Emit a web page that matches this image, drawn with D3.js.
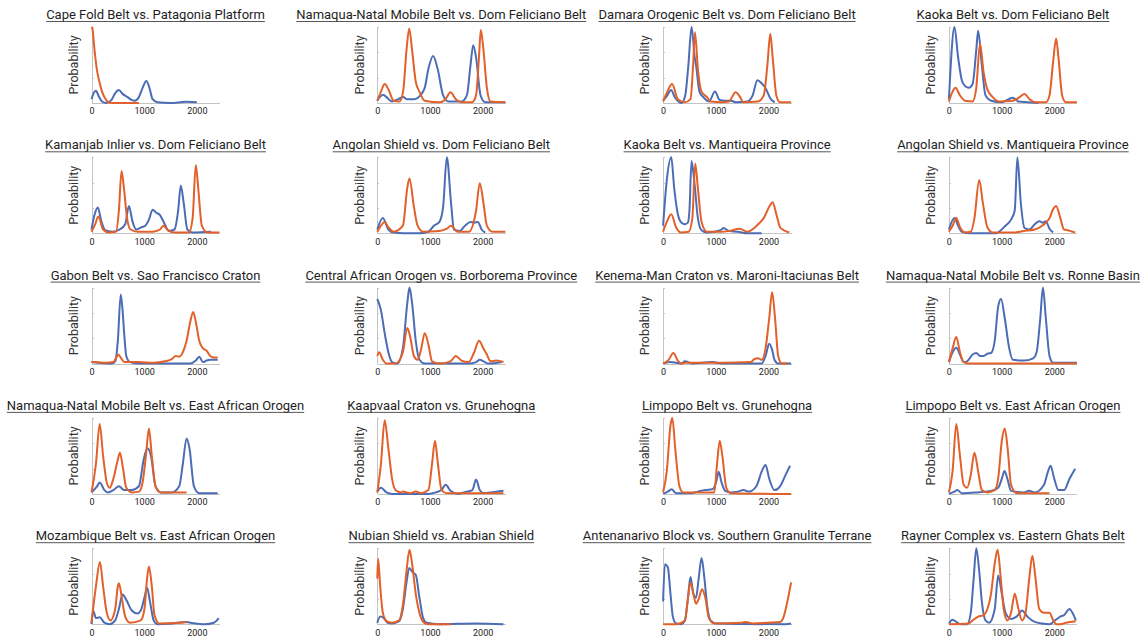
<!DOCTYPE html>
<html>
<head>
<meta charset="utf-8">
<script src="https://d3js.org/d3.v7.min.js"></script>
<style>
  body { margin: 0; background: #fff; }
  .title { font-family: Roboto, "Liberation Sans", sans-serif; font-size: 13px; fill: #1e1e1e; }
  .ylab { font-family: Roboto, "Liberation Sans", sans-serif; font-size: 12.5px; fill: #333; }
  .axis text { font-family: Roboto, "Liberation Sans", sans-serif; font-size: 9px; fill: #222; }
  .axis path, .axis line { stroke: #c4c4c4; shape-rendering: crispEdges; }
</style>
</head>
<body>
<svg id="chart" width="1148" height="642"></svg>
<script>

// panel titles, read left to right, top to bottom
var titles = [
  "Cape Fold Belt vs. Patagonia Platform",
  "Namaqua-Natal Mobile Belt vs. Dom Feliciano Belt",
  "Damara Orogenic Belt vs. Dom Feliciano Belt",
  "Kaoka Belt vs. Dom Feliciano Belt",
  "Kamanjab Inlier vs. Dom Feliciano Belt",
  "Angolan Shield vs. Dom Feliciano Belt",
  "Kaoka Belt vs. Mantiqueira Province",
  "Angolan Shield vs. Mantiqueira Province",
  "Gabon Belt vs. Sao Francisco Craton",
  "Central African Orogen vs. Borborema Province",
  "Kenema-Man Craton vs. Maroni-Itaciunas Belt",
  "Namaqua-Natal Mobile Belt vs. Ronne Basin",
  "Namaqua-Natal Mobile Belt vs. East African Orogen",
  "Kaapvaal Craton vs. Grunehogna",
  "Limpopo Belt vs. Grunehogna",
  "Limpopo Belt vs. East African Orogen",
  "Mozambique Belt vs. East African Orogen",
  "Nubian Shield vs. Arabian Shield",
  "Antenanarivo Block vs. Southern Granulite Terrane",
  "Rayner Complex vs. Eastern Ghats Belt"
];

var xTicks = [0, 1000, 2000];

// [age (Ma), relative probability]
var capeFoldBlue = [[0,.05],[40,.13],[85,.16],[130,.1],[200,.02],[280,0],[380,.04],[450,.13],[520,.17],[590,.12],[680,.08],[760,.04],[820,.03],[900,.08],[970,.2],[1040,.29],[1100,.2],[1160,.05],[1250,.01],[1500,0],[1800,.015],[2000,.01]];
var capeFoldOrange = [[0,1],[20,.97],[50,.75],[100,.45],[150,.28],[200,.15],[260,.06],[320,.01],[400,0],[900,0]];

var namaquaDomBlue = [[0,.03],[50,.08],[110,.11],[170,.08],[280,.02],[400,.05],[490,.08],[560,.05],[700,.05],[770,.07],[900,.2],[970,.45],[1060,.62],[1145,.45],[1250,.1],[1350,.02],[1600,.02],[1700,.1],[1770,.5],[1820,.76],[1875,.6],[1960,.1],[2050,.01],[2430,.01]];
var namaquaDomOrange = [[0,.03],[70,.15],[140,.25],[210,.18],[310,.03],[420,.02],[490,.15],[555,.7],[605,.98],[660,.7],[730,.28],[800,.15],[900,.03],[1180,.01],[1285,.04],[1390,.14],[1490,.05],[1600,.01],[1800,.01],[1875,.1],[1930,.6],[1965,.96],[2015,.7],[2080,.2],[2150,.02],[2430,.01]];

var damaraDomBlue = [[0,.03],[80,.1],[150,.17],[220,.08],[290,.02],[350,0],[420,.1],[480,.5],[540,1],[600,.6],[625,.5],[690,.15],[760,.08],[870,.02],[985,.15],[1075,.04],[1180,.03],[1285,.03],[1390,.01],[1600,.02],[1700,.1],[1790,.3],[1870,.26],[1940,.2],[2045,.05],[2120,.01]];
var damaraDomOrange = [[0,.02],[80,.15],[170,.25],[280,.05],[415,.01],[520,.05],[570,.5],[605,.93],[660,.45],[730,.15],[830,.08],[900,.02],[1110,.01],[1250,.02],[1375,.14],[1460,.08],[1520,.01],[1800,.02],[1910,.1],[1980,.5],[2035,.91],[2080,.6],[2150,.1],[2220,.01],[2430,.01]];

var kaokaDomBlue = [[0,.05],[35,.5],[105,1],[175,.6],[245,.3],[310,.22],[380,.2],[450,.25],[520,.7],[555,.95],[625,.5],[695,.1],[800,.03],[1005,.01],[1215,.07],[1320,.02],[1490,.01],[1700,0]];
var kaokaDomOrange = [[0,.02],[70,.15],[125,.2],[210,.1],[310,.03],[450,.02],[520,.2],[590,.78],[660,.4],[730,.18],[830,.08],[940,.02],[1215,.03],[1350,.08],[1435,.12],[1530,.05],[1630,.01],[1840,.01],[1910,.1],[1980,.55],[2035,.85],[2080,.6],[2150,.1],[2220,.01],[2430,.01]];

var kamanjabDomBlue = [[0,.05],[60,.25],[120,.34],[190,.15],[260,.04],[400,.02],[535,.05],[640,.12],[710,.36],[780,.15],[850,.05],[950,.08],[1020,.1],[1090,.18],[1160,.31],[1230,.27],[1300,.24],[1370,.15],[1470,.03],[1575,.05],[1645,.3],[1695,.63],[1750,.4],[1820,.05],[1920,.01],[2270,.02]];
var kamanjabDomOrange = [[0,.02],[70,.12],[130,.22],[220,.05],[330,.01],[465,.02],[520,.3],[570,.82],[615,.6],[675,.2],[740,.05],[880,.02],[1160,.02],[1300,.05],[1370,.1],[1435,.05],[1575,.01],[1850,.01],[1920,.2],[1980,.9],[2025,.6],[2095,.1],[2200,.01],[2430,.01]];

var angolanDomBlue = [[0,.05],[105,.2],[210,.05],[310,.01],[500,0],[800,0],[970,.02],[1075,.1],[1180,.15],[1250,.35],[1320,1],[1400,.4],[1455,.05],[1560,.03],[1665,.1],[1770,.15],[1840,.14],[1910,.15],[1980,.05],[2050,.01]];
var angolanDomOrange = [[0,.02],[70,.1],[140,.15],[210,.08],[310,.02],[485,.1],[570,.6],[610,.72],[695,.35],[765,.1],[870,.02],[1180,.03],[1320,.06],[1400,.1],[1525,.02],[1735,.02],[1875,.3],[1945,.66],[2015,.4],[2080,.1],[2185,.02],[2430,.02]];

var kaokaMantBlue = [[0,.1],[70,.7],[155,1],[210,.6],[280,.25],[350,.14],[415,.12],[470,.14],[500,.3],[540,.95],[590,.7],[660,.2],[730,.04],[835,.01],[970,.02],[1110,.05],[1145,.07],[1250,.03],[1420,.02],[1600,0],[1870,0]];
var kaokaMantOrange = [[0,.02],[70,.15],[155,.25],[245,.08],[345,.01],[485,.02],[555,.2],[610,.92],[660,.6],[730,.15],[835,.02],[1110,.02],[1250,.03],[1455,.06],[1600,.02],[1670,.04],[1805,.12],[1910,.2],[2015,.35],[2080,.41],[2150,.25],[2220,.08],[2290,.04],[2395,.01]];

var angolanMantBlue = [[0,.05],[105,.2],[175,.1],[245,.02],[400,0],[900,0],[970,.03],[1075,.1],[1180,.18],[1250,.3],[1300,1],[1365,.4],[1435,.07],[1525,.05],[1630,.12],[1715,.16],[1785,.14],[1840,.16],[1910,.06],[1980,.01]];
var angolanMantOrange = [[0,.02],[70,.1],[140,.2],[210,.08],[310,.01],[415,.02],[485,.2],[575,.7],[645,.4],[730,.08],[835,.01],[1215,.01],[1420,.03],[1630,.05],[1770,.1],[1910,.2],[1980,.32],[2035,.36],[2115,.2],[2185,.05],[2255,.04],[2395,.01]];

var gabonBlue = [[0,.02],[380,0],[450,.03],[500,.3],[555,.91],[590,.7],[625,.35],[660,.1],[730,.02],[900,0],[1870,0],[1980,.04],[2045,.09],[2115,.02],[2185,.04],[2255,.05],[2395,.05]];
var gabonOrange = [[0,.02],[70,.02],[280,.01],[415,.02],[470,.08],[505,.12],[555,.08],[625,.02],[900,.02],[1180,.01],[1390,.03],[1525,.06],[1600,.1],[1665,.09],[1735,.15],[1805,.3],[1875,.55],[1930,.68],[1980,.55],[2045,.3],[2115,.2],[2185,.17],[2255,.1],[2325,.08],[2395,.08]];

var centralBlue = [[0,.85],[70,.7],[140,.4],[210,.15],[280,.02],[380,0],[485,.2],[570,.8],[610,1],[660,.8],[730,.3],[800,.05],[900,0],[1735,0],[1875,.02],[1945,.05],[2015,.03],[2115,0],[2360,.02]];
var centralOrange = [[0,.1],[35,.15],[105,.05],[175,0],[345,0],[485,.15],[570,.47],[625,.35],[695,.1],[765,.05],[835,.2],[900,.4],[970,.25],[1040,.03],[1180,0],[1390,.03],[1490,.1],[1600,.04],[1735,.02],[1840,.15],[1930,.3],[2015,.2],[2080,.12],[2150,.03],[2255,.04],[2395,.02]];

var kenemaBlue = [[0,0],[140,.02],[345,0],[415,.03],[555,0],[935,.02],[1110,0],[1870,0],[1945,.1],[2015,.26],[2070,.18],[2115,.05],[2185,0],[2430,0]];
var kenemaOrange = [[0,0],[105,.05],[195,.14],[280,.04],[345,0],[415,.01],[1110,.01],[1665,.02],[1735,.06],[1805,.07],[1875,.05],[1945,.2],[2015,.6],[2070,.94],[2125,.6],[2185,.1],[2255,0],[2360,0]];

var namaquaRonneBlue = [[0,.02],[70,.15],[140,.21],[210,.12],[280,.02],[345,.03],[450,.12],[520,.14],[590,.1],[660,.1],[730,.13],[800,.14],[870,.3],[935,.75],[990,.85],[1060,.6],[1145,.2],[1215,.05],[1420,.04],[1600,.07],[1665,.15],[1735,.6],[1785,1],[1840,.6],[1910,.1],[1980,.01],[2430,.01]];
var namaquaRonneOrange = [[0,.02],[70,.2],[140,.35],[210,.15],[280,.02],[380,0],[2430,0]];

var namaquaEaoBlue = [[0,.02],[105,.1],[155,.15],[245,.05],[310,.02],[415,.05],[520,.1],[625,.05],[765,.05],[900,.1],[990,.45],[1060,.6],[1130,.5],[1215,.1],[1320,.02],[1525,.02],[1665,.1],[1735,.4],[1805,.73],[1860,.6],[1945,.1],[2045,.01],[2395,.01]];
var namaquaEaoOrange = [[0,.02],[85,.4],[155,.92],[220,.5],[290,.15],[345,.08],[415,.2],[500,.45],[540,.54],[595,.35],[660,.08],[765,.02],[900,.03],[970,.15],[1040,.55],[1090,.86],[1145,.5],[1215,.1],[1320,.02],[1805,.02]];

var kaapvaalBlue = [[0,.03],[70,.08],[175,.02],[280,0],[970,0],[1110,.02],[1215,.05],[1300,.12],[1390,.04],[1525,0],[1700,.03],[1805,.05],[1875,.19],[1945,.05],[2015,.01],[2150,.02],[2395,.04]];
var kaapvaalOrange = [[0,.02],[70,.4],[140,.97],[210,.6],[280,.2],[345,.05],[450,.02],[485,.03],[625,.01],[730,.03],[835,.01],[970,.05],[1040,.4],[1095,.7],[1150,.4],[1220,.05],[1320,.01],[2395,.01]];

var limpopoGrunBlue = [[0,0],[90,.03],[160,.06],[245,.01],[520,.01],[660,.03],[800,.05],[935,.06],[1005,.15],[1055,.29],[1110,.15],[1180,.04],[1285,.02],[1420,.03],[1525,.05],[1630,.03],[1770,.1],[1875,.3],[1945,.38],[2015,.2],[2115,.05],[2220,.1],[2325,.25],[2410,.37]];
var limpopoGrunOrange = [[0,.02],[70,.3],[140,.9],[175,1],[230,.6],[310,.1],[380,.02],[590,.02],[970,.02],[1025,.4],[1075,.7],[1125,.5],[1200,.08],[1285,.01],[2430,0]];

var limpopoEaoBlue = [[0,0],[105,.03],[160,.05],[245,.01],[520,.02],[800,.04],[935,.08],[1005,.2],[1055,.3],[1110,.2],[1180,.04],[1420,.02],[1525,.04],[1630,.02],[1805,.12],[1875,.28],[1930,.37],[2000,.2],[2080,.05],[2185,.05],[2290,.2],[2395,.33]];
var limpopoEaoOrange = [[0,.02],[70,.3],[140,.92],[210,.5],[280,.12],[345,.08],[415,.25],[485,.54],[555,.3],[625,.05],[730,.02],[870,.05],[935,.2],[1005,.7],[1060,.86],[1115,.6],[1180,.12],[1285,.01],[1910,.01]];

var mozambiqueBlue = [[0,0],[30,.18],[85,.08],[155,.09],[245,.02],[345,0],[450,.05],[520,.2],[590,.39],[660,.32],[765,.18],[870,.14],[935,.18],[1005,.35],[1055,.48],[1110,.3],[1180,.05],[1250,0],[1525,.01],[1770,.03],[1875,.02],[2150,0],[2325,.02],[2415,.08]];
var mozambiqueOrange = [[0,.02],[85,.5],[160,.82],[220,.5],[290,.15],[360,.05],[450,.2],[500,.5],[520,.54],[575,.35],[640,.1],[730,.02],[935,.05],[1005,.2],[1055,.6],[1090,.76],[1145,.5],[1195,.12],[1285,.01],[1700,.02],[1805,.03]];

var nubianBlue = [[0,.02],[55,.1],[125,.08],[195,.02],[280,.01],[415,.04],[485,.2],[555,.55],[605,.74],[675,.68],[730,.65],[800,.35],[870,.08],[935,.02],[1180,0],[1875,.01],[2395,0]];
var nubianOrange = [[0,.6],[15,.86],[55,.5],[105,.15],[175,.04],[280,.02],[415,.05],[485,.25],[555,.7],[610,.98],[660,.8],[730,.4],[800,.15],[870,.03],[970,0],[1400,0]];

var antenanarivoBlue = [[0,.3],[35,.79],[90,.75],[140,.4],[185,.1],[245,.01],[345,0],[415,.05],[465,.3],[520,.62],[575,.4],[625,.35],[675,.6],[730,.87],[785,.6],[835,.25],[900,.05],[1005,.01],[2325,0],[2430,.01]];
var antenanarivoOrange = [[0,0],[245,0],[415,.05],[465,.3],[520,.55],[575,.4],[625,.27],[675,.33],[740,.46],[800,.35],[870,.08],[970,.01],[1500,.02],[1570,.03],[1700,.01],[1980,.02],[2220,.03],[2290,.1],[2360,.3],[2430,.55]];

var raynerBlue = [[0,.01],[70,.06],[140,.03],[210,0],[345,0],[415,.15],[470,.6],[520,1],[575,.7],[625,.3],[695,.05],[765,.02],[870,.2],[935,.64],[1005,.4],[1075,.15],[1180,.07],[1285,.1],[1390,.18],[1490,.1],[1630,.03],[1770,.01],[1910,0],[2015,.05],[2115,.1],[2185,.12],[2290,.2],[2345,.15],[2410,.05]];
var raynerOrange = [[0,0],[380,.01],[450,.05],[555,.1],[660,.12],[730,.2],[800,.4],[870,.8],[925,.98],[985,.6],[1040,.2],[1110,.05],[1180,.15],[1250,.4],[1320,.2],[1390,.05],[1455,.15],[1525,.6],[1585,.9],[1645,.6],[1715,.2],[1805,.15],[1910,.15],[1980,.05],[2045,0],[2115,0],[2220,.02],[2410,.04]];

var blueSeries = [capeFoldBlue, namaquaDomBlue, damaraDomBlue, kaokaDomBlue,
  kamanjabDomBlue, angolanDomBlue, kaokaMantBlue, angolanMantBlue,
  gabonBlue, centralBlue, kenemaBlue, namaquaRonneBlue,
  namaquaEaoBlue, kaapvaalBlue, limpopoGrunBlue, limpopoEaoBlue,
  mozambiqueBlue, nubianBlue, antenanarivoBlue, raynerBlue];
var orangeSeries = [capeFoldOrange, namaquaDomOrange, damaraDomOrange, kaokaDomOrange,
  kamanjabDomOrange, angolanDomOrange, kaokaMantOrange, angolanMantOrange,
  gabonOrange, centralOrange, kenemaOrange, namaquaRonneOrange,
  namaquaEaoOrange, kaapvaalOrange, limpopoGrunOrange, limpopoEaoOrange,
  mozambiqueOrange, nubianOrange, antenanarivoOrange, raynerOrange];

var svg = d3.select("#chart");

var pw = 128,          // plot width
    ph = 76,           // plot height
    colStep = 285.8,
    rowStep = 130.3,
    left0 = 91.5,
    top0 = 14.5;

var x = d3.scaleLinear().domain([0, 2430]).range([0, pw]);
var y = d3.scaleLinear().domain([0, 1]).range([ph, 0]);

var line = d3.line()
    .x(function (d) { return x(d[0]); })
    .y(function (d) { return y(d[1]); })
    .curve(d3.curveMonotoneX);

titles.forEach(function (t, i) {
    var r = Math.floor(i / 4), c = i % 4;
    var tx = left0 + c * colStep, ty = top0 + r * rowStep;

    // title + underline
    var title = svg.append("text")
        .attr("class", "title")
        .attr("x", tx + pw / 2)
        .attr("y", ty + 4.5)
        .attr("text-anchor", "middle")
        .text(t);
    var tw = title.node().getComputedTextLength();
    svg.append("line")
        .attr("x1", tx + pw / 2 - tw / 2).attr("x2", tx + pw / 2 + tw / 2)
        .attr("y1", ty + 7).attr("y2", ty + 7)
        .attr("stroke", "#444").attr("stroke-width", 0.9);

    var g = svg.append("g").attr("transform", "translate(" + tx + "," + (ty + 12.5) + ")");

    g.append("g")
        .attr("class", "axis")
        .attr("transform", "translate(0," + ph + ")")
        .call(d3.axisBottom(x).tickValues(xTicks).tickSize(0).tickPadding(5).tickFormat(d3.format("d")));

    g.append("g")
        .attr("class", "axis")
        .call(d3.axisLeft(y).tickValues([1 / 3, 2 / 3, 1]).tickSize(-2).tickSizeOuter(0).tickFormat(""));

    g.append("text")
        .attr("class", "ylab")
        .attr("transform", "translate(-18," + (ph / 2) + ")rotate(-90)")
        .attr("text-anchor", "middle")
        .attr("dy", "0.35em")
        .text("Probability");

    g.append("path")
        .datum(blueSeries[i])
        .attr("d", line)
        .attr("fill", "none")
        .attr("stroke", "#4c6cb5")
        .attr("stroke-width", 2);

    g.append("path")
        .datum(orangeSeries[i])
        .attr("d", line)
        .attr("fill", "none")
        .attr("stroke", "#e2602a")
        .attr("stroke-width", 2);
});

</script>
</body>
</html>
